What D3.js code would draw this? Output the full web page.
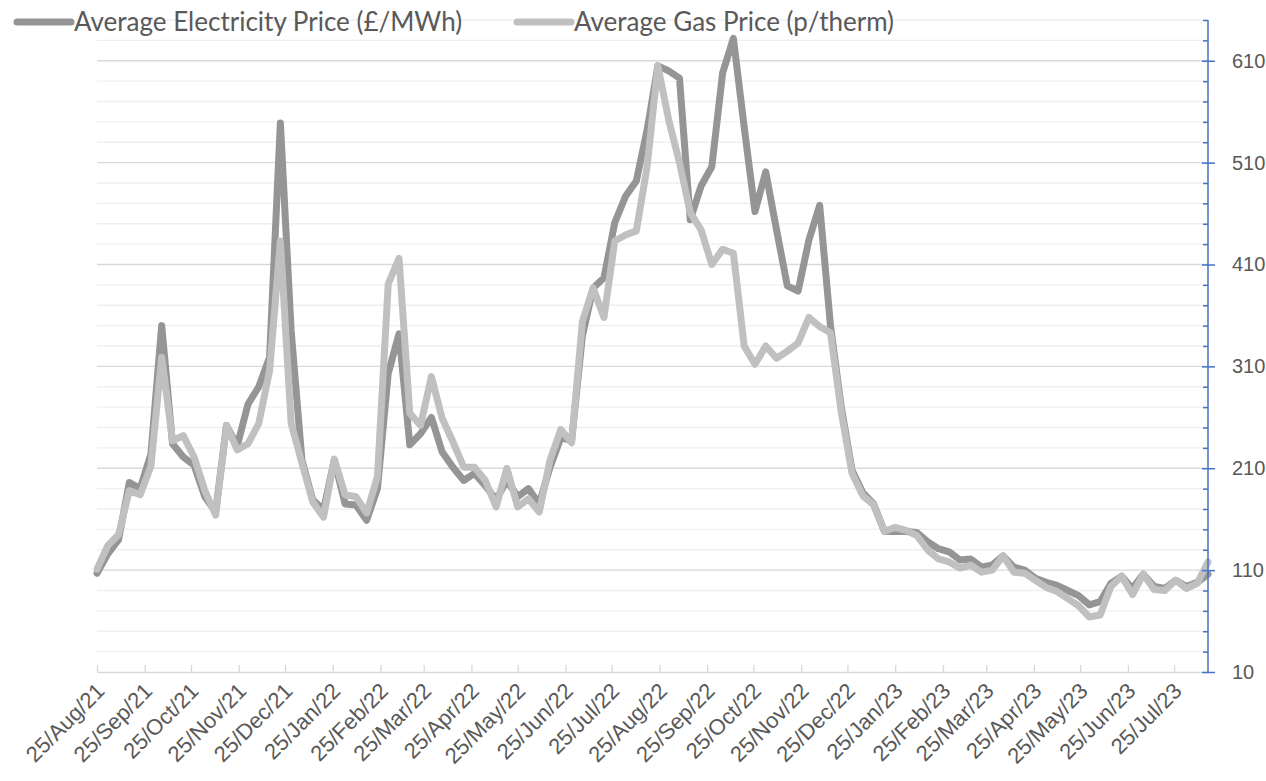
<!DOCTYPE html>
<html>
<head>
<meta charset="utf-8">
<script src="https://cdn.jsdelivr.net/npm/d3@7/dist/d3.min.js"></script>
<style>
   body { margin: 0; background: #fff; }
   svg { display: block; font-family: Lato, "Open Sans", sans-serif; }
   .grid-minor { stroke: #efefef; stroke-width: 1.3; }
   .grid-major { stroke: #d9d9d9; stroke-width: 1.3; }
   .x-axis path, .x-axis line { stroke: #d9d9d9; stroke-width: 1.3; }
   .x-axis text { fill: #595959; font-size: 22px; }
   .y-axis path, .y-axis line { stroke: #4472c4; stroke-width: 1.5; }
   .y-axis text { fill: #595959; font-size: 20px; }
   .legend-text { fill: #595959; font-size: 26px; }
</style>
</head>
<body>
<svg id="chart" width="1266" height="781"></svg>
<script>
// weekly series, first week starts 25 Aug 2021
var firstWeek = "2021-08-25";

var elecPrice = [
   107, 126, 140, 196, 190, 224, 350, 234, 221, 213, 182, 167, 252, 232, 273, 290,
   319, 549, 345, 218, 179, 169, 218, 175, 174, 159, 190, 303, 342, 233, 244, 260,
   226, 211, 198, 205, 193, 179, 198, 182, 190, 175, 211, 240, 237, 340, 387, 397,
   451, 477, 492, 542, 605, 600, 593, 454, 487, 506, 598, 632, 545, 462, 501, 444,
   389, 384, 434, 468, 350, 270, 208, 186, 175, 148, 148, 148, 147, 138, 131, 128,
   120, 121, 113, 115, 124, 113, 110, 102, 98, 95, 90, 85, 76, 79, 97, 104,
   92, 106, 94, 92, 100, 94, 98, 106
];

var gasPrice = [
   111, 134, 145, 188, 184, 212, 319, 237, 242, 221, 188, 164, 252, 228, 234, 254,
   306, 433, 254, 215, 177, 162, 219, 184, 182, 166, 202, 391, 416, 264, 252, 300,
   259, 236, 211, 211, 198, 172, 210, 172, 180, 167, 218, 248, 235, 354, 387, 358,
   433, 439, 443, 506, 605, 552, 510, 461, 444, 410, 425, 421, 330, 312, 330, 318,
   325, 333, 358, 349, 343, 265, 205, 183, 174, 148, 152, 149, 144, 130, 121, 118,
   112, 115, 108, 110, 124, 108, 107, 100, 93, 89, 82, 75, 64, 66, 94, 104,
   86, 106, 91, 90, 100, 92, 97, 118
];

var seriesNames = ["Average Electricity Price (£/MWh)", "Average Gas Price (p/therm)"];
var seriesColors = ["#959595", "#c0c0c0"];

var yMajorTicks = [10, 110, 210, 310, 410, 510, 610];
var yMinorTicks = d3.range(30, 651, 20).filter(function(v){ return yMajorTicks.indexOf(v) < 0; });
var yMax = 650;

var width = 1266, height = 781;
var plotLeft = 97, plotRight = 1208, plotTop = 20, plotBottom = 672;

var svg = d3.select("#chart");

var parseDate = d3.timeParse("%Y-%m-%d");
var start = parseDate(firstWeek);
var weekDates = elecPrice.map(function(d, i){ return d3.timeDay.offset(start, i * 7); });

var elecData = elecPrice.map(function(v, i){ return { date: weekDates[i], value: v }; });
var gasData = gasPrice.map(function(v, i){ return { date: weekDates[i], value: v }; });

var x = d3.scaleTime()
   .domain([weekDates[0], weekDates[weekDates.length - 1]])
   .range([plotLeft, plotRight]);

var y = d3.scaleLinear()
   .domain([10, yMax])
   .range([plotBottom, plotTop]);

// monthly ticks on the 25th
var monthTicks = d3.timeMonth.range(new Date(2021, 7, 1), new Date(2023, 7, 1))
   .map(function(d){ return new Date(d.getFullYear(), d.getMonth(), 25); });

//Draw horizontal gridlines
svg.append("g").selectAll("line")
   .data(yMinorTicks)
   .enter()
   .append("line")
   .attr("class", "grid-minor")
   .attr("x1", plotLeft).attr("x2", plotRight)
   .attr("y1", function(d){ return y(d); })
   .attr("y2", function(d){ return y(d); });

svg.append("g").selectAll("line")
   .data(yMajorTicks.slice(1))
   .enter()
   .append("line")
   .attr("class", "grid-major")
   .attr("x1", plotLeft).attr("x2", plotRight)
   .attr("y1", function(d){ return y(d); })
   .attr("y2", function(d){ return y(d); });

//Bottom date axis, ticks pointing into the plot
var xAxis = svg.append("g")
   .attr("class", "x-axis")
   .attr("transform", "translate(0," + plotBottom + ")")
   .call(d3.axisBottom(x)
      .tickValues(monthTicks)
      .tickSizeInner(-7)
      .tickSizeOuter(0)
      .tickFormat(d3.timeFormat("%d/%b/%y")));

xAxis.selectAll("text")
   .attr("text-anchor", "end")
   .attr("x", 0)
   .attr("y", 0)
   .attr("dy", "0.35em")
   .attr("transform", "translate(3,15) rotate(-45)");

//Price lines, gas drawn over electricity
var line = d3.line()
   .x(function(d){ return x(d.date); })
   .y(function(d){ return y(d.value); });

[elecData, gasData].forEach(function(data, i){
   svg.append("path")
      .datum(data)
      .attr("fill", "none")
      .attr("stroke", seriesColors[i])
      .attr("stroke-width", 7)
      .attr("stroke-linejoin", "round")
      .attr("stroke-linecap", "round")
      .attr("d", line);
});

//Right value axis
var yAxisMinor = svg.append("g")
   .attr("class", "y-axis")
   .attr("transform", "translate(" + plotRight + ",0)")
   .call(d3.axisLeft(y).tickValues(yMinorTicks).tickSizeInner(5).tickSizeOuter(0).tickFormat(""));

var yAxis = svg.append("g")
   .attr("class", "y-axis")
   .attr("transform", "translate(" + plotRight + ",0)")
   .call(d3.axisRight(y).tickValues(yMajorTicks).tickSizeInner(7).tickSizeOuter(0).tickPadding(17));

yAxis.selectAll(".tick line").attr("x1", -6);
yAxis.select(".domain").attr("d", "M0," + plotTop + "V" + plotBottom);
yAxisMinor.select(".domain").remove();

//Legend
var legendPos = [{ x1: 17, x2: 71, tx: 74 }, { x1: 517, x2: 571, tx: 574 }];
legendPos.forEach(function(p, i){
   var g = svg.append("g").attr("class", "legend");
   g.append("line")
      .attr("x1", p.x1).attr("x2", p.x2)
      .attr("y1", 22).attr("y2", 22)
      .attr("stroke", seriesColors[i])
      .attr("stroke-width", 7)
      .attr("stroke-linecap", "round");
   g.append("text")
      .attr("class", "legend-text")
      .attr("x", p.tx)
      .attr("y", 22)
      .attr("dy", "0.35em")
      .text(seriesNames[i]);
});
</script>
</body>
</html>
